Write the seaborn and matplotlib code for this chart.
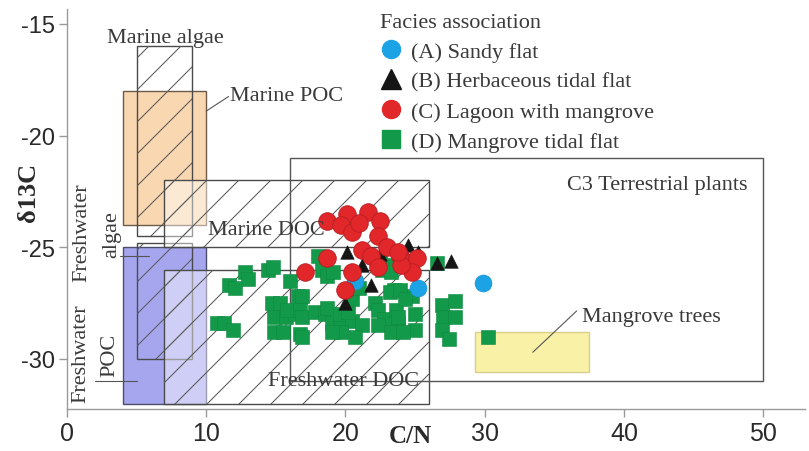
import matplotlib
matplotlib.use("Agg")
import matplotlib.pyplot as plt
import numpy as np
import pandas as pd
import seaborn as sns
from matplotlib.patches import Rectangle
from matplotlib.collections import LineCollection
from matplotlib.lines import Line2D

# ---- Sample data: C/N ratio vs δ13C (‰) by facies association ----
sandy_cn = [20.7, 25.2, 29.9]
sandy_d13c = [-26.5, -26.8, -26.6]

herb_cn = [20.1, 21.2, 21.8, 22.5, 24.5, 25.2, 26.6, 27.6, 20.0]
herb_d13c = [-25.2, -25.8, -26.7, -25.3, -24.9, -25.2, -25.7, -25.6, -27.5]

lagoon_cn = [18.7, 20.1, 21.6, 22.5, 19.7, 20.5, 21.0, 22.3, 21.2, 21.8, 23.0,
             23.9, 24.5, 25.1, 24.8, 22.3, 18.7, 17.1, 20.5, 20.0, 24.0, 23.8]
lagoon_d13c = [-23.8, -23.5, -23.4, -23.8, -24.0, -24.3, -23.9, -24.5, -25.1, -25.4, -25.0,
               -25.4, -25.7, -25.5, -26.1, -25.9, -25.5, -26.1, -26.1, -26.9, -25.8, -25.2]

mangrove_cn = [10.8, 11.3, 11.9, 11.6, 12.1, 12.8, 13.0, 14.4, 14.8,
               16.0, 16.6, 14.7, 15.3, 14.9, 15.7, 14.9, 15.5, 16.4, 16.7,
               15.8, 16.7, 18.0, 18.3, 18.7, 19.1,
               16.9, 16.9, 17.8, 18.5, 18.7, 19.0, 19.7, 19.6, 20.5, 21.2, 20.7, 19.7, 19.0, 16.9, 20.2,
               20.5, 21.0, 22.5, 23.4, 22.6, 23.3, 23.5, 23.2,
               22.1, 22.3, 22.8, 22.3, 23.6, 23.8, 23.3,
               24.8, 23.9, 24.3, 23.8, 25.0, 25.0, 24.1,
               26.6, 26.9, 27.9, 27.0, 27.9, 26.9, 27.4, 30.2]
mangrove_d13c = [-28.4, -28.4, -28.7, -26.7, -26.8, -26.1, -26.4, -26.0, -25.9,
                 -26.5, -27.2, -27.5, -27.5, -28.1, -28.1, -28.8, -28.8, -28.0, -28.9,
                 -27.8, -27.8, -25.4, -26.0, -26.3, -26.1,
                 -27.2, -28.1, -27.9, -28.0, -27.7, -28.4, -28.4, -28.0, -28.3, -28.5, -29.0, -28.8, -28.8, -29.0, -27.9,
                 -27.3, -26.8, -25.5, -25.8, -26.0, -26.1, -26.9, -27.0,
                 -27.5, -27.8, -28.2, -28.5, -27.8, -28.4, -28.8,
                 -27.2, -26.9, -27.3, -28.1, -28.0, -28.7, -28.8,
                 -25.7, -27.6, -27.4, -28.1, -28.1, -28.7, -29.1, -29.0]

facies_labels = ["(A) Sandy flat", "(B) Herbaceous tidal flat",
                 "(C) Lagoon with mangrove", "(D) Mangrove tidal flat"]

# ---- Organic-matter source fields (C/N range, δ13C range) ----
field_names = ["Marine POC", "Freshwater POC", "Marine algae", "Freshwater algae",
               "Marine DOC", "Freshwater DOC", "C3 Terrestrial plants", "Mangrove trees"]
field_cn_lo = [4, 4, 5, 5, 7, 7, 16, 29.3]
field_cn_hi = [10, 10, 9, 9, 26, 26, 50, 37.5]
field_d13c_lo = [-24, -32, -24.5, -30, -25, -32, -31, -30.6]
field_d13c_hi = [-18, -25, -16, -24.8, -22, -26, -21, -28.8]

x_ticks = [0, 10, 20, 30, 40, 50]
y_ticks = [-15, -20, -25, -30]

# ---- Styling ----
sns.set_theme(style="ticks")
plt.rcParams["font.family"] = ["Liberation Sans", "DejaVu Sans"]
SERIF = ["Liberation Serif", "DejaVu Serif"]
TXT = "#3a3a3a"

field_style = {
    "Marine POC":            dict(fc="#f9d0a3", alpha=0.85, ec="#6e5a48", hatch=False),
    "Freshwater POC":        dict(fc="#a6a6ef", alpha=1.0, ec="#4d4d6e", hatch=False),
    "Marine algae":          dict(fc="none", alpha=1.0, ec="#4a4a4a", hatch=True),
    "Freshwater algae":      dict(fc="none", alpha=1.0, ec="#4a4a4a", hatch=True),
    "Marine DOC":            dict(fc="white", alpha=0.45, ec="#4a4a4a", hatch=True),
    "Freshwater DOC":        dict(fc="white", alpha=0.45, ec="#4a4a4a", hatch=True),
    "C3 Terrestrial plants": dict(fc="none", alpha=1.0, ec="#555555", hatch=False),
    "Mangrove trees":        dict(fc="#f8f09c", alpha=0.9, ec="#d8cf8a", hatch=False),
}

fig = plt.figure(figsize=(8.09, 4.52), dpi=100)
ax = fig.add_axes([67 / 809, 42 / 452, 738 / 809, 400 / 452])
ax.set_xlim(0, 53.0)
ax.set_ylim(-32.24, -14.33)
ax.set_autoscale_on(False)


def add_hatch(ax, x0, x1, y0, y1, spacing_px=32, color="#5a5a5a", lw=0.75, z=2):
    """Draw '/' hatching at 45 degrees on screen, clipped to the rectangle."""
    (px0, py0), (px1, py1) = ax.transData.transform([(x0, y0), (x1, y1)])
    cmin, cmax = py0 - px1, py1 - px0
    cs = np.arange(np.floor(cmin / spacing_px) * spacing_px, cmax + spacing_px, spacing_px)
    inv = ax.transData.inverted()
    segs = [inv.transform([(px0, px0 + c), (px1, px1 + c)]) for c in cs]
    lc = LineCollection(segs, colors=color, linewidths=lw, zorder=z)
    ax.add_collection(lc, autolim=False)
    clip = Rectangle((x0, y0), x1 - x0, y1 - y0, transform=ax.transData,
                     fc="none", ec="none")
    lc.set_clip_path(clip)


for name, x0, x1, y0, y1 in zip(field_names, field_cn_lo, field_cn_hi, field_d13c_lo, field_d13c_hi):
    st = field_style[name]
    z = 1 if name in ("Marine POC", "Freshwater POC") else 2
    if st["fc"] != "none":
        ax.add_patch(Rectangle((x0, y0), x1 - x0, y1 - y0, fc=st["fc"], alpha=st["alpha"],
                               ec="none", zorder=z))
    ax.add_patch(Rectangle((x0, y0), x1 - x0, y1 - y0, fc="none", ec=st["ec"], lw=1.0, zorder=z))
    if st["hatch"]:
        add_hatch(ax, x0, x1, y0, y1, z=z)

# ---- Samples ----
df_d = pd.DataFrame({"cn": mangrove_cn, "d13c": mangrove_d13c})
df_a = pd.DataFrame({"cn": sandy_cn, "d13c": sandy_d13c})
df_b = pd.DataFrame({"cn": herb_cn, "d13c": herb_d13c})
df_c = pd.DataFrame({"cn": lagoon_cn, "d13c": lagoon_d13c})

GREEN, RED, BLUE, BLACK = "#12994a", "#e2272b", "#1ba3e6", "#151515"
sns.scatterplot(data=df_d, x="cn", y="d13c", marker="s", s=105, color=GREEN,
                edgecolor="#0d8a3f", linewidth=0.4, ax=ax, zorder=3, legend=False)
sns.scatterplot(data=df_a, x="cn", y="d13c", marker="o", s=150, color=BLUE,
                edgecolor="#1890cc", linewidth=0.4, ax=ax, zorder=4, legend=False)
sns.scatterplot(data=df_b, x="cn", y="d13c", marker="^", s=95, color=BLACK,
                edgecolor=BLACK, linewidth=0.4, ax=ax, zorder=5, legend=False)
sns.scatterplot(data=df_c, x="cn", y="d13c", marker="o", s=160, color=RED,
                edgecolor="#b51d20", linewidth=0.6, ax=ax, zorder=6, legend=False)

# ---- Field labels ----
tkw = dict(family=SERIF, fontsize=16, color=TXT, zorder=7)
ax.text(2.9, -15.6, "Marine algae", ha="left", va="center", **tkw)
ax.text(11.7, -18.2, "Marine POC", ha="left", va="center", **tkw)
ax.text(10.1, -24.2, "Marine DOC", ha="left", va="center", **tkw)
ax.text(1.08, -24.3, "Freshwater", rotation=90, ha="center", va="center", **tkw)
ax.text(3.2, -24.4, "algae", rotation=90, ha="center", va="center", **tkw)
ax.text(1.0, -29.7, "Freshwater", rotation=90, ha="center", va="center", **tkw)
ax.text(3.1, -29.8, "POC", rotation=90, ha="center", va="center", **tkw)
ax.text(14.4, -30.95, "Freshwater DOC", ha="left", va="center", **tkw)
ax.text(48.9, -22.2, "C3 Terrestrial plants", ha="right", va="center", **tkw)
ax.text(37.0, -28.1, "Mangrove trees", ha="left", va="center", **tkw)

lkw = dict(color="#555555", lw=0.8, zorder=7)
ax.plot([10.0, 11.6], [-18.9, -18.25], **lkw)
ax.plot([3.8, 5.9], [-25.4, -25.4], **lkw)
ax.plot([2.0, 5.0], [-31.0, -31.0], **lkw)
ax.plot([33.45, 36.6], [-29.7, -27.85], **lkw)

# ---- Axes ----
sns.despine(ax=ax)
for side in ("left", "bottom"):
    ax.spines[side].set_color("#9a9a9a")
    ax.spines[side].set_linewidth(1.0)
ax.set_xticks(x_ticks)
ax.set_yticks(y_ticks)
ax.set_xticklabels([str(v) for v in x_ticks])
ax.set_yticklabels([str(v) for v in y_ticks])
ax.tick_params(axis="both", direction="out", length=6, width=1, color="#9a9a9a",
               labelcolor="#2a2a2a", pad=3)
ax.tick_params(axis="y", labelsize=17)
ax.tick_params(axis="x", labelsize=18)
ax.set_xlabel("")
ax.set_ylabel("")
ax.text(-0.052, 0.545, "δ13C", transform=ax.transAxes, rotation=90, ha="center", va="center",
        family=SERIF, fontsize=19, fontweight="bold", color="#2a2a2a")
ax.text(0.465, -0.0675, "C/N", transform=ax.transAxes, ha="center", va="center",
        family=SERIF, fontsize=18, fontweight="bold", color="#2a2a2a")

# ---- Legend ----
handles = [
    Line2D([], [], ls="", marker="o", ms=13, mfc=BLUE, mec=BLUE),
    Line2D([], [], ls="", marker="^", ms=14, mfc=BLACK, mec=BLACK),
    Line2D([], [], ls="", marker="o", ms=13, mfc=RED, mec=RED),
    Line2D([], [], ls="", marker="s", ms=13, mfc=GREEN, mec=GREEN),
]
leg = ax.legend(handles, facies_labels, title="Facies association", loc="upper left",
                bbox_to_anchor=(0.424, 0.99), frameon=False, alignment="left",
                prop={"family": SERIF, "size": 16}, handlelength=1.0, handletextpad=0.4,
                labelspacing=0.42, borderpad=0, borderaxespad=0)
leg.get_title().set_fontfamily(SERIF)
leg.get_title().set_fontsize(16)
for t in leg.get_texts():
    t.set_color(TXT)
leg.get_title().set_color(TXT)

fig.savefig("out.png", dpi=100)
